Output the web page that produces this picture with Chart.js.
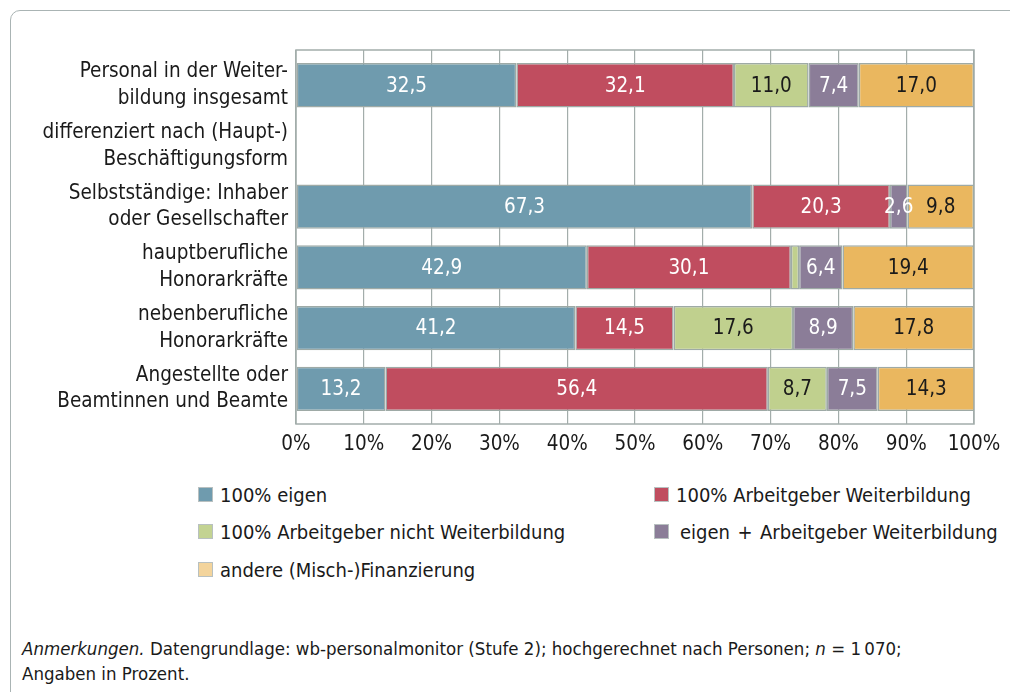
<!DOCTYPE html>
<html>
<head>
<meta charset="utf-8">
<script src="https://cdn.jsdelivr.net/npm/chart.js@4"></script>
<style>
  body { margin: 0; background: #fff; font-family: 'DejaVu Sans Condensed', sans-serif; color: #1a1a1a; }
  #card { position: absolute; left: 10px; top: 10px; width: 1100px; height: 800px; border: 1.5px solid #aab4b4; border-radius: 10px; }
  #wrap { position: absolute; left: 0; top: 0; width: 1010px; height: 470px; }
  #legend { position: absolute; left: 0; top: 0; }
  .item { position: absolute; font-size: 20px; white-space: nowrap; line-height: 20px; }
  .box { position: absolute; left: 0; top: 2px; width: 15px; height: 15px; border: 1px solid #b8c0c0; box-sizing: border-box; }
  #note { position: absolute; left: 22px; top: 636px; font-size: 18.5px; line-height: 25px; }
</style>
</head>
<body>
<div id="card"></div>
<div id="wrap"><canvas id="chart"></canvas></div>
<div id="legend"></div>
<div id="note"><i>Anmerkungen.</i> Datengrundlage: wb-personalmonitor (Stufe 2); hochgerechnet nach Personen; <i>n</i> = 1&#8201;070;<br>Angaben in Prozent.</div>
<script>
var categories = [
  ['Personal in der Weiter-', 'bildung insgesamt'],
  ['differenziert nach (Haupt-)', 'Beschäftigungsform'],
  ['Selbstständige: Inhaber', 'oder Gesellschafter'],
  ['hauptberufliche', 'Honorarkräfte'],
  ['nebenberufliche', 'Honorarkräfte'],
  ['Angestellte oder', 'Beamtinnen und Beamte']
];
var seriesNames = ['100% eigen', '100% Arbeitgeber Weiterbildung', '100% Arbeitgeber nicht Weiterbildung', 'eigen + Arbeitgeber Weiterbildung', 'andere (Misch-)Finanzierung'];
var eigen        = [32.5, null, 67.3, 42.9, 41.2, 13.2];
var agWeiterb    = [32.1, null, 20.3, 30.1, 14.5, 56.4];
var agNicht      = [11.0, null, 0,    1.2,  17.6, 8.7];
var eigenPlusAg  = [7.4,  null, 2.6,  6.4,  8.9,  7.5];
var andere       = [17.0, null, 9.8,  19.4, 17.8, 14.3];
var xTicks = [0, 10, 20, 30, 40, 50, 60, 70, 80, 90, 100];

var colors = ['#6f9bae', '#c04d5f', '#c0d08e', '#8b7d98', '#eab75f'];
var legendColors = ['#6f9bae', '#c04d5f', '#c3d392', '#8b7d98', '#f3d49c'];
var labelColors = ['#fff', '#fff', '#1a1a1a', '#fff', '#1a1a1a'];
var allSeries = [eigen, agWeiterb, agNicht, eigenPlusAg, andere];

var font = "'DejaVu Sans Condensed', sans-serif";
Chart.defaults.font.family = font;
Chart.defaults.font.size = 20;
Chart.defaults.color = '#1a1a1a';

var valueLabels = {
  id: 'valueLabels',
  afterDatasetsDraw: function(chart) {
    var ctx = chart.ctx;
    ctx.save();
    ctx.font = '20.5px ' + font;
    ctx.textAlign = 'center';
    ctx.textBaseline = 'middle';
    chart.data.datasets.forEach(function(ds, i) {
      chart.getDatasetMeta(i).data.forEach(function(bar, j) {
        var v = ds.data[j];
        if (v == null || v < 2) return;
        ctx.fillStyle = labelColors[i];
        ctx.fillText(v.toFixed(1).replace('.', ','), (bar.x + bar.base) / 2, bar.y + 1);
      });
    });
    ctx.restore();
  }
};

var frame = {
  id: 'frame',
  beforeDatasetsDraw: function(chart) {
    var a = chart.chartArea, ctx = chart.ctx;
    ctx.save();
    ctx.strokeStyle = '#a3adab';
    ctx.lineWidth = 1.5;
    ctx.strokeRect(a.left, a.top, a.right - a.left, a.bottom - a.top);
    ctx.restore();
  }
};

new Chart('chart', {
  type: 'bar',
  data: {
    labels: categories.map(function(c, i) { return i; }),
    datasets: allSeries.map(function(d, i) {
      return {
        label: seriesNames[i],
        data: d,
        backgroundColor: colors[i],
        borderColor: '#9eaaa6',
        borderWidth: 1.5,
        borderSkipped: false,
        barPercentage: 0.73,
        categoryPercentage: 1
      };
    })
  },
  options: {
    indexAxis: 'y',
    responsive: true,
    maintainAspectRatio: false,
    animation: false,
    layout: { padding: { top: 50, right: 36, left: 0, bottom: 0 } },
    plugins: { legend: { display: false }, tooltip: { enabled: false } },
    scales: {
      x: {
        stacked: true, min: 0, max: 100,
        afterBuildTicks: function(s) { s.ticks = xTicks.map(function(v) { return { value: v }; }); },
        ticks: { callback: function(v) { return v + '%'; }, padding: 8, maxRotation: 0, font: { size: 20.5 } },
        grid: { color: '#a3adab', lineWidth: 1.2, drawTicks: false },
        border: { display: false },
        afterFit: function(s) { s.height = 46; }
      },
      y: {
        type: 'linear', stacked: true, reverse: true, offset: false,
        min: -0.58, max: 5.58,
        ticks: {
          stepSize: 1, includeBounds: false, autoSkip: false, padding: 8,
          font: { size: 20.5, lineHeight: 1.3 },
          callback: function(v) { return categories[v]; }
        },
        grid: { display: false, drawTicks: false },
        border: { display: false },
        afterFit: function(s) { s.width = 296; }
      }
    }
  },
  plugins: [frame, valueLabels]
});

// legend, two columns
var legendPos = [[198, 485], [654, 485], [198, 522], [654, 522], [198, 560]];
var lg = document.getElementById('legend');
seriesNames.forEach(function(name, i) {
  var it = document.createElement('div');
  it.className = 'item';
  it.style.left = legendPos[i][0] + 'px';
  it.style.top = legendPos[i][1] + 'px';
  it.style.paddingLeft = (i === 3 ? 26 : 22) + 'px';
  it.innerHTML = '<span class="box" style="background:' + legendColors[i] + '"></span>' + name.replace('+', '&#8202;+&#8202;');
  lg.appendChild(it);
});
</script>
</body>
</html>
